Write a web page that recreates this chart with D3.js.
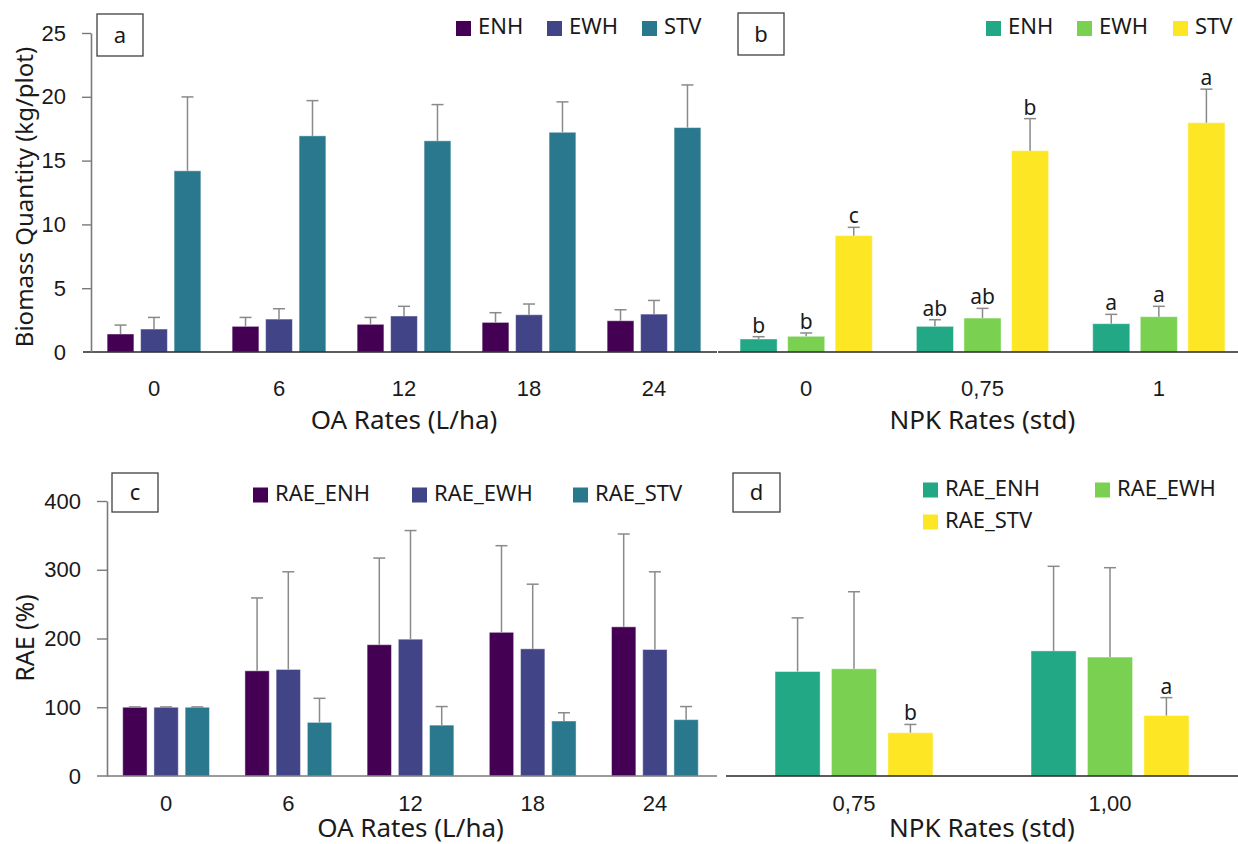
<!DOCTYPE html>
<html>
<head>
<meta charset="utf-8">
<script src="https://cdn.jsdelivr.net/npm/d3@7"></script>
<style>
  html, body { margin: 0; padding: 0; background: #fff; }
  svg { display: block; font-family: "Noto Sans", "Open Sans", sans-serif; }
</style>
</head>
<body>
<svg id="chart" width="1238" height="844"></svg>
<script>
// ---- data ----
const oaRates = ["0", "6", "12", "18", "24"];
const npkRates = ["0", "0,75", "1"];
const npkRatesRae = ["0,75", "1,00"];

const biomassSeries = ["ENH", "EWH", "STV"];
const raeSeries = ["RAE_ENH", "RAE_EWH", "RAE_STV"];

// (a) biomass by OA rate, kg/plot (mean and SD)
const oaENH = [1.41, 2.01, 2.17, 2.32, 2.45];
const oaENHsd = [0.70, 0.70, 0.54, 0.76, 0.86];
const oaEWH = [1.80, 2.58, 2.82, 2.92, 2.97];
const oaEWHsd = [0.91, 0.81, 0.76, 0.84, 1.07];
const oaSTV = [14.20, 16.94, 16.55, 17.22, 17.59];
const oaSTVsd = [5.79, 2.76, 2.84, 2.38, 3.34];

// (b) biomass by NPK rate, kg/plot
const npkENH = [1.02, 2.01, 2.22];
const npkENHsd = [0.18, 0.52, 0.73];
const npkENHlet = ["b", "ab", "a"];
const npkEWH = [1.23, 2.66, 2.77];
const npkEWHsd = [0.26, 0.76, 0.81];
const npkEWHlet = ["b", "ab", "a"];
const npkSTV = [9.12, 15.78, 17.97];
const npkSTVsd = [0.65, 2.51, 2.63];
const npkSTVlet = ["c", "b", "a"];

// (c) RAE by OA rate, %
const raeOaENH = [100, 153, 191, 209, 217];
const raeOaENHsd = [0.5, 106, 126, 126, 135];
const raeOaEWH = [100, 155, 199, 185, 184];
const raeOaEWHsd = [0.5, 142, 158, 94, 113];
const raeOaSTV = [100, 78, 74, 80, 82];
const raeOaSTVsd = [0.5, 35, 27, 12, 19];

// (d) RAE by NPK rate, %
const raeNpkENH = [152, 182];
const raeNpkENHsd = [78, 123];
const raeNpkEWH = [156, 173];
const raeNpkEWHsd = [112, 130];
const raeNpkSTV = [63, 88];
const raeNpkSTVsd = [12, 26];
const raeNpkSTVlet = ["b", "a"];

const biomassTicks = [0, 5, 10, 15, 20, 25];
const raeTicks = [0, 100, 200, 300, 400];

const viridisDark = ["#440154", "#414487", "#2a788e"];
const viridisLight = ["#22a884", "#7ad151", "#fde725"];

// ---- drawing helpers ----
const svg = d3.select("#chart");
const TICK_FONT = 22;
const LEG_FONT = 22;
const TITLE_FONT = 26;
const SIG_FONT = 21;
const TXT = "#1a1a1a";
const ERR = "#8a8a8a";

function makeSeries(names, values, sds, letters) {
  return names.map((name, i) => ({ name, values: values[i], sds: sds[i], letters: letters ? letters[i] : null }));
}

function drawPanel(cfg) {
  const g = svg.append("g");
  const x0 = d3.scaleBand().domain(cfg.categories).range(cfg.xRange)
    .paddingInner(cfg.groupPad).paddingOuter(cfg.groupPad / 2);
  const x1 = d3.scaleBand().domain(cfg.series.map(s => s.name)).range([0, x0.bandwidth()])
    .paddingInner(cfg.barPad).paddingOuter(0);
  const y = d3.scaleLinear().domain(cfg.yDomain).range(cfg.yRange);

  // bars + error bars
  cfg.series.forEach((s, si) => {
    const sg = g.append("g");
    const items = cfg.categories.map((c, i) => ({ c, v: s.values[i], sd: s.sds[i], lab: s.letters ? s.letters[i] : null }));
    sg.selectAll("rect").data(items).join("rect")
      .attr("x", d => x0(d.c) + x1(s.name))
      .attr("y", d => y(d.v))
      .attr("width", x1.bandwidth())
      .attr("height", d => y(0) - y(d.v))
      .attr("fill", cfg.colors[si])
      .attr("stroke", "#ffffff").attr("stroke-opacity", 0.45).attr("stroke-width", 1);
    const cx = d => x0(d.c) + x1(s.name) + x1.bandwidth() / 2;
    sg.selectAll("line.err").data(items).join("line").attr("class", "err")
      .attr("x1", cx).attr("x2", cx)
      .attr("y1", d => y(d.v)).attr("y2", d => y(d.v + d.sd))
      .attr("stroke", ERR).attr("stroke-width", 1.5);
    sg.selectAll("line.cap").data(items).join("line").attr("class", "cap")
      .attr("x1", d => cx(d) - 6).attr("x2", d => cx(d) + 6)
      .attr("y1", d => y(d.v + d.sd)).attr("y2", d => y(d.v + d.sd))
      .attr("stroke", ERR).attr("stroke-width", 1.5);
    if (s.letters) {
      sg.selectAll("text.sig").data(items.filter(d => d.lab)).join("text").attr("class", "sig")
        .attr("x", cx).attr("y", d => y(d.v + d.sd) - 4)
        .attr("text-anchor", "middle").attr("font-size", SIG_FONT).attr("fill", TXT)
        .text(d => d.lab);
    }
  });

  // baseline
  g.append("line")
    .attr("x1", cfg.baseline[0]).attr("x2", cfg.baseline[1])
    .attr("y1", y(0)).attr("y2", y(0))
    .attr("stroke", cfg.baseColor).attr("stroke-width", 1.6);

  // category labels
  const xa = g.append("g").attr("transform", `translate(0,${y(0)})`)
    .call(d3.axisBottom(x0).tickSize(0).tickPadding(cfg.catPad));
  xa.select(".domain").remove();
  xa.selectAll("text").attr("font-size", TICK_FONT).attr("fill", TXT).attr("font-family", null);

  // y axis
  if (cfg.yAxisX != null) {
    const ya = g.append("g").attr("transform", `translate(${cfg.yAxisX},0)`)
      .call(d3.axisLeft(y).tickValues(cfg.yTicks).tickSize(cfg.tickLen).tickPadding(16).tickSizeOuter(0));
    ya.select(".domain").attr("stroke", "#7a7a7a").attr("stroke-width", 1.6);
    ya.selectAll(".tick line").attr("stroke", "#7a7a7a").attr("stroke-width", 1.4);
    ya.selectAll(".tick").filter(d => d === 0).select("line").remove();
    ya.selectAll("text").attr("font-size", TICK_FONT).attr("fill", TXT).attr("font-family", null);
    g.append("text")
      .attr("transform", `translate(${cfg.yTitleX},${cfg.yTitleY}) rotate(-90)`)
      .attr("text-anchor", "middle").attr("dominant-baseline", "middle")
      .attr("font-size", cfg.yTitleSize).attr("fill", TXT).text(cfg.yTitle);
  }

  // x title (alphabetic baseline)
  g.append("text")
    .attr("x", (cfg.xRange[0] + cfg.xRange[1]) / 2).attr("y", cfg.xTitleY)
    .attr("text-anchor", "middle")
    .attr("font-size", TITLE_FONT).attr("fill", TXT).text(cfg.xTitle);

  // panel tag
  const b = cfg.tagBox;
  g.append("rect").attr("x", b[0]).attr("y", b[1]).attr("width", b[2]).attr("height", b[3])
    .attr("fill", "none").attr("stroke", "#404040").attr("stroke-width", 1.3);
  g.append("text").attr("x", b[0] + b[2] / 2).attr("y", b[1] + b[3] / 2 + 2)
    .attr("text-anchor", "middle").attr("dominant-baseline", "middle")
    .attr("font-size", LEG_FONT).attr("fill", TXT).text(cfg.tag);

  // legend
  cfg.legend.forEach((p, i) => {
    g.append("rect").attr("x", p[0]).attr("y", p[1] - 7.5).attr("width", 15).attr("height", 15)
      .attr("fill", cfg.colors[i]);
    g.append("text").attr("x", p[0] + 22).attr("y", p[1])
      .attr("dominant-baseline", "middle").attr("font-size", LEG_FONT).attr("fill", TXT)
      .text(cfg.series[i].name);
  });
}

// (a)
drawPanel({
  categories: oaRates,
  series: makeSeries(biomassSeries, [oaENH, oaEWH, oaSTV], [oaENHsd, oaEWHsd, oaSTVsd]),
  colors: viridisDark,
  xRange: [91.5, 716.5], groupPad: 0.25, barPad: 0.2,
  yDomain: [0, 25], yRange: [352, 33], yTicks: biomassTicks,
  yAxisX: 91, tickLen: 9, baseline: [83, 717], baseColor: "#262626",
  catPad: 28, xTitle: "OA Rates (L/ha)", xTitleY: 429,
  yTitle: "Biomass Quantity (kg/plot)", yTitleX: 27, yTitleY: 197, yTitleSize: 24,
  tag: "a", tagBox: [97, 14, 46, 42],
  legend: [[456, 28.5], [547, 28.5], [642, 28.5]]
});

// (b)
drawPanel({
  categories: npkRates,
  series: makeSeries(biomassSeries, [npkENH, npkEWH, npkSTV], [npkENHsd, npkEWHsd, npkSTVsd],
    [npkENHlet, npkEWHlet, npkSTVlet]),
  colors: viridisLight,
  xRange: [718, 1247], groupPad: 0.25, barPad: 0.22,
  yDomain: [0, 25], yRange: [352, 33],
  yAxisX: null, baseline: [718, 1238], baseColor: "#262626",
  catPad: 28, xTitle: "NPK Rates (std)", xTitleY: 429,
  tag: "b", tagBox: [738, 13, 46, 42],
  legend: [[986, 28.5], [1077, 28.5], [1173, 28.5]]
});

// (c)
drawPanel({
  categories: oaRates,
  series: makeSeries(raeSeries, [raeOaENH, raeOaEWH, raeOaSTV], [raeOaENHsd, raeOaEWHsd, raeOaSTVsd]),
  colors: viridisDark,
  xRange: [105, 716], groupPad: 0.29, barPad: 0.22,
  yDomain: [0, 400], yRange: [776, 501], yTicks: raeTicks,
  yAxisX: 107, tickLen: 10, baseline: [97, 717], baseColor: "#7a7a7a",
  catPad: 19, xTitle: "OA Rates (L/ha)", xTitleY: 837,
  yTitle: "RAE (%)", yTitleX: 27, yTitleY: 638, yTitleSize: 25,
  tag: "c", tagBox: [112, 473, 46, 39],
  legend: [[253, 495], [412, 495], [573, 495]]
});

// (d)
drawPanel({
  categories: npkRatesRae,
  series: makeSeries(raeSeries, [raeNpkENH, raeNpkEWH, raeNpkSTV], [raeNpkENHsd, raeNpkEWHsd, raeNpkSTVsd],
    [null, null, raeNpkSTVlet]),
  colors: viridisLight,
  xRange: [726, 1238], groupPad: 0.383, barPad: 0.2,
  yDomain: [0, 400], yRange: [776, 501],
  yAxisX: null, baseline: [726, 1238], baseColor: "#262626",
  catPad: 19, xTitle: "NPK Rates (std)", xTitleY: 837,
  tag: "d", tagBox: [733, 473, 47, 39],
  legend: [[923, 490], [1095, 490], [923, 522]]
});
</script>
</body>
</html>
